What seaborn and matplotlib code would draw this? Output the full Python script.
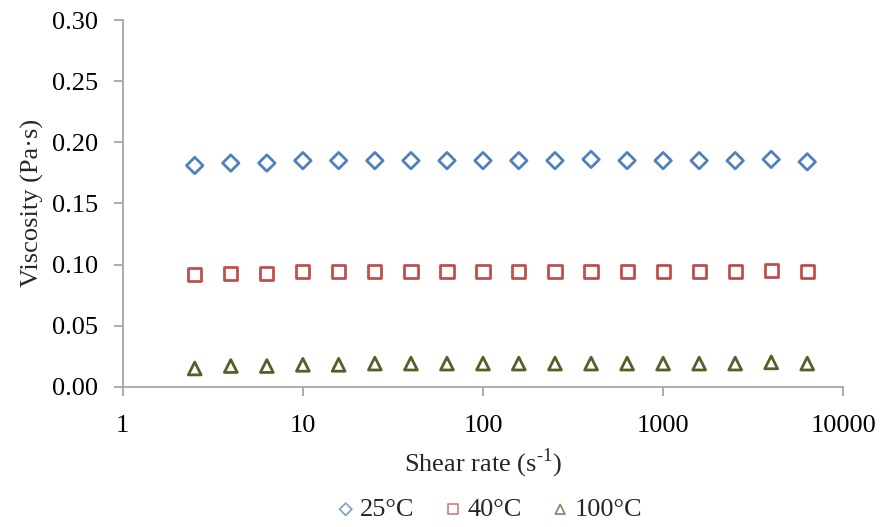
import numpy as np
import pandas as pd
import seaborn as sns
import matplotlib.pyplot as plt
from matplotlib.ticker import FixedLocator, NullLocator, FuncFormatter

# data
shear_rate = [2.51, 3.98, 6.31, 10.0, 15.8, 25.1, 39.8, 63.1, 100, 158, 251, 398,
              631, 1000, 1585, 2512, 3981, 6310]
visc_25 = [0.181, 0.183, 0.183, 0.185, 0.185, 0.185, 0.185, 0.185, 0.185, 0.185,
           0.185, 0.186, 0.185, 0.185, 0.185, 0.185, 0.186, 0.184]
visc_40 = [0.092, 0.093, 0.093, 0.094, 0.094, 0.094, 0.094, 0.094, 0.094, 0.094,
           0.094, 0.094, 0.094, 0.094, 0.094, 0.094, 0.095, 0.094]
visc_100 = [0.015, 0.017, 0.017, 0.018, 0.018, 0.019, 0.019, 0.019, 0.019, 0.019,
            0.019, 0.019, 0.019, 0.019, 0.019, 0.019, 0.020, 0.019]
series_labels = ["25°C", "40°C", "100°C"]
x_ticks = [1, 10, 100, 1000, 10000]
y_ticks = [0.00, 0.05, 0.10, 0.15, 0.20, 0.25, 0.30]

sns.set_style("white")
plt.rcParams['font.family'] = ['Liberation Serif', 'DejaVu Serif']
plt.rcParams['mathtext.fontset'] = 'custom'
plt.rcParams['mathtext.rm'] = 'Liberation Serif'

colors = ["#4F81BD", "#C0504D", "#4F6228"]
markers = ["D", "s", "^"]
sizes = [70, 90, 85]
fs = 19

fig = plt.figure(figsize=(8.83, 5.27), dpi=100)
ax = fig.add_axes([0.139, 0.266, 0.816, 0.696])

for vals, lab, col, mk, sz in zip([visc_25, visc_40, visc_100], series_labels, colors, markers, sizes):
    df = pd.DataFrame({"shear": shear_rate, "visc": vals})
    sns.scatterplot(data=df, x="shear", y="visc", marker=mk, s=sz, color=col,
                    facecolor="none", edgecolor=col, linewidth=2, label=lab, ax=ax)

ax.set_xscale("log")
ax.set_xlim(1, 10000)
ax.set_ylim(0, 0.30)
ax.xaxis.set_major_locator(FixedLocator(x_ticks))
ax.xaxis.set_minor_locator(NullLocator())
ax.xaxis.set_major_formatter(FuncFormatter(lambda v, p: f"{v:g}"))
ax.yaxis.set_major_locator(FixedLocator(y_ticks))
ax.yaxis.set_major_formatter(FuncFormatter(lambda v, p: f"{v:.2f}"))

for s in ["top", "right"]:
    ax.spines[s].set_visible(False)
for s in ["left", "bottom"]:
    ax.spines[s].set_color("#A6A6A6")
    ax.spines[s].set_linewidth(1.3)
ax.tick_params(axis="both", which="major", left=True, bottom=True, direction="out",
               length=6.5, width=1.3, color="#A6A6A6", labelsize=fs, labelcolor="black")
ax.tick_params(axis="y", pad=11)
ax.tick_params(axis="x", pad=14)

ax.set_xlabel("Shear rate (s$^{\u20101}$)", fontsize=fs, labelpad=7)
ax.set_ylabel("Viscosity (Pa·s)", fontsize=fs, labelpad=6)

ax.get_legend().remove()
handles, labels = ax.get_legend_handles_labels()
leg = fig.legend(handles, labels, loc="lower center", bbox_to_anchor=(0.552, -0.034), ncol=3,
                 frameon=False, fontsize=fs, markerscale=0.75, handletextpad=0.05,
                 columnspacing=0.95, handlelength=1.0)
for h in leg.legend_handles:
    h.set_linewidth(1.2)
    h.set_alpha(0.75)

fig.savefig("out.png", dpi=100)
